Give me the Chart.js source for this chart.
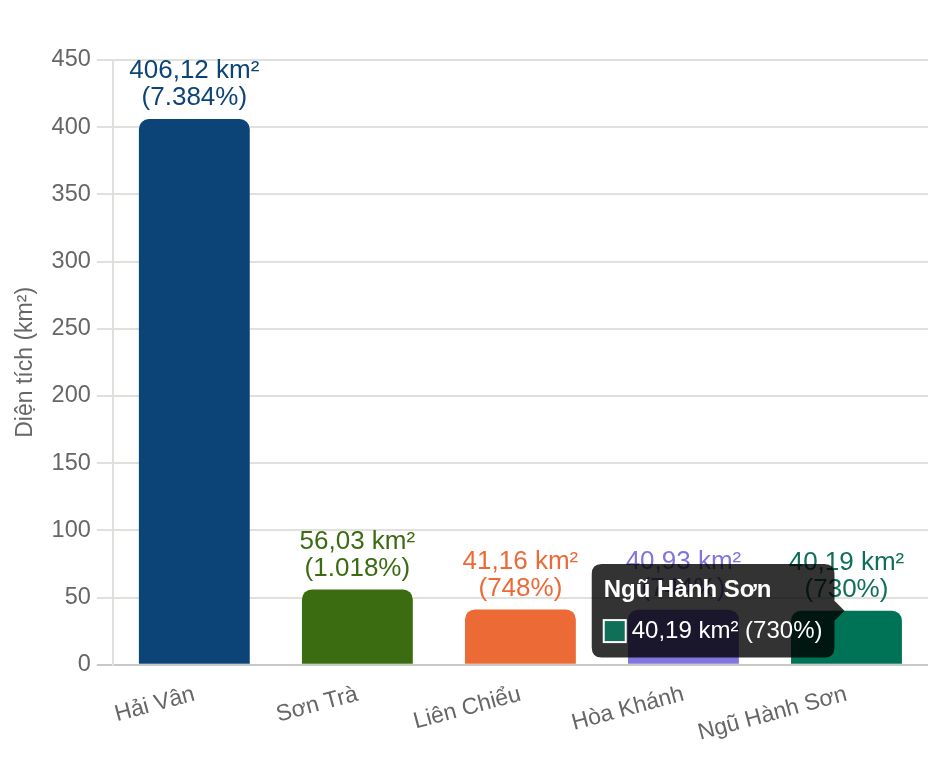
<!DOCTYPE html>
<html>
<head>
<meta charset="utf-8">
<script src="https://cdn.jsdelivr.net/npm/chart.js@4.4.1/dist/chart.umd.min.js"></script>
<style>
html,body{margin:0;padding:0;background:#fff;}
#wrap{width:928px;height:760px;}
</style>
</head>
<body>
<div id="wrap"><canvas id="c" width="928" height="760"></canvas></div>
<script>
const categories = ["Hải Vân", "Sơn Trà", "Liên Chiểu", "Hòa Khánh", "Ngũ Hành Sơn"];
const areaValues = [406.12, 56.03, 41.16, 40.93, 40.19];
const areaLabels = ["406,12 km²", "56,03 km²", "41,16 km²", "40,93 km²", "40,19 km²"];
const percentLabels = ["(7.384%)", "(1.018%)", "(748%)", "(744%)", "(730%)"];
const barColors = ["#0d4477", "#3b6c12", "#eb6a36", "#8176dd", "#106f58"];
const yTicks = [0, 50, 100, 150, 200, 250, 300, 350, 400, 450];
const yAxisTitle = "Diện tích (km²)";

const FONT = "'Liberation Sans', Arial, Helvetica, sans-serif";

const barLabelPlugin = {
  id: 'barLabels',
  afterDatasetsDraw(chart) {
    const ctx = chart.ctx;
    const meta = chart.getDatasetMeta(0);
    ctx.save();
    ctx.font = "26px " + FONT;
    ctx.textAlign = 'center';
    ctx.textBaseline = 'middle';
    meta.data.forEach((bar, i) => {
      ctx.fillStyle = barColors[i];
      ctx.fillText(areaLabels[i], bar.x, bar.y - 48);
      ctx.fillText(percentLabels[i], bar.x, bar.y - 21);
    });
    ctx.restore();
  }
};

const chart = new Chart(document.getElementById('c'), {
  type: 'bar',
  data: {
    labels: categories,
    datasets: [{
      label: yAxisTitle,
      data: areaValues,
      backgroundColor: barColors,
      borderRadius: {topLeft: 10, topRight: 10, bottomLeft: 0, bottomRight: 0},
      borderSkipped: 'bottom',
      barPercentage: 0.85,
      categoryPercentage: 0.8
    }]
  },
  options: {
    responsive: false,
    animation: false,
    devicePixelRatio: 1,
    layout: {padding: {top: 60, right: 0, left: 6, bottom: 5}},
    plugins: {
      legend: {display: false},
      tooltip: {
        enabled: true,
        backgroundColor: 'rgba(0,0,0,0.8)',
        titleFont: {family: FONT, size: 24, weight: 'bold'},
        bodyFont: {family: FONT, size: 24},
        padding: 12,
        caretSize: 10,
        cornerRadius: 10,
        titleMarginBottom: 12,
        boxPadding: 4,
        boxWidth: 22,
        boxHeight: 22,
        callbacks: {
          label: (item) => areaLabels[item.dataIndex] + " " + percentLabels[item.dataIndex],
          labelColor: (item) => ({borderColor: '#ffffff', backgroundColor: barColors[item.dataIndex], borderWidth: 2})
        }
      }
    },
    scales: {
      x: {
        grid: {display: false},
        border: {display: false},
        ticks: {
          color: '#666',
          font: {family: FONT, size: 23},
          minRotation: 15,
          maxRotation: 15,
          padding: 8
        }
      },
      y: {
        min: 0,
        max: 450,
        afterBuildTicks: (axis) => { axis.ticks = yTicks.map(v => ({value: v})); },
        grid: {
          color: (c) => c.tick && c.tick.value === 0 ? '#c8c8c4' : '#e0e0dc',
          lineWidth: 2,
          tickLength: 16
        },
        border: {display: true, color: '#e0e0dc', width: 2},
        ticks: {
          color: '#666',
          font: {family: FONT, size: 23.5},
          padding: 6
        },
        title: {
          display: true,
          text: yAxisTitle,
          color: '#666',
          font: {family: FONT, size: 23},
          padding: 6
        }
      }
    }
  },
  plugins: [barLabelPlugin]
});

const meta = chart.getDatasetMeta(0);
const el = meta.data[4];
chart.setActiveElements([{datasetIndex: 0, index: 4}]);
chart.tooltip.setActiveElements([{datasetIndex: 0, index: 4}], {x: el.x, y: el.y});
chart.update('none');
</script>
</body>
</html>
